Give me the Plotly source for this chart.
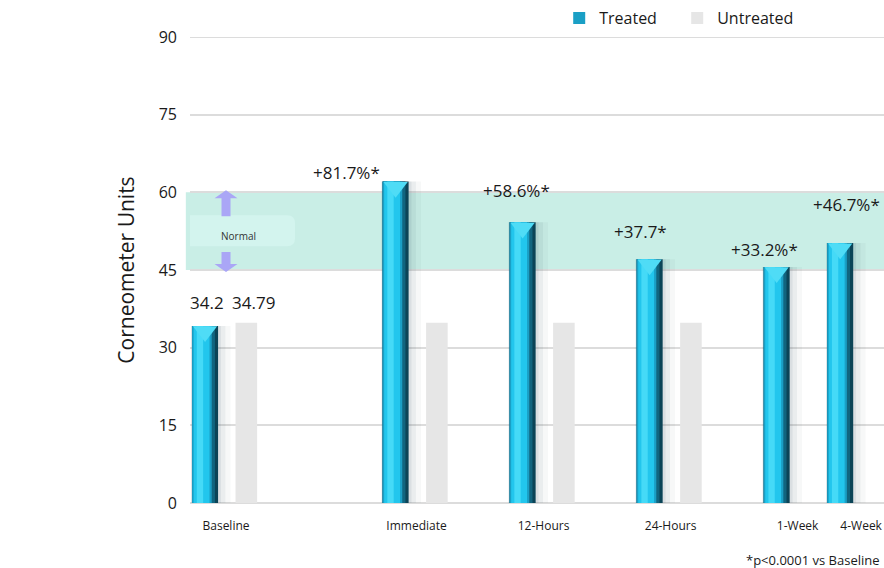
import plotly.graph_objects as go

# Data
categories = ['Baseline', 'Immediate', '12-Hours', '24-Hours', '1-Week', '4-Week']
slots = [0, 3, 5, 7, 9, 10]                       # uneven spacing of the time points
treated = [34.2, 62.1, 54.2, 47.1, 45.6, 50.2]
treated_labels = ['34.2', '+81.7%*', '+58.6%*', '+37.7*', '+33.2%*', '+46.7%*']
untreated_cats = ['Baseline', 'Immediate', '12-Hours', '24-Hours']
untreated = [34.79, 34.8, 34.8, 34.8]
untreated_labels = ['34.79', '', '', '']
normal_low, normal_high = 45, 60

# Colours
grey_bar = '#e6e6e6'
band_color = '#c9eee6'
box_color = '#d3f4ee'
arrow_color = '#aaa6f6'
grid_color = '#dcdcdc'

slot_of = dict(zip(categories, slots))
x_tr = [slot_of[c] - 0.33 for c in categories]
x_un = [slot_of[c] + 0.32 for c in untreated_cats]

fig = go.Figure()

# soft shadow behind treated bars
for w, op in [(0.62, 0.04), (0.54, 0.06), (0.47, 0.08)]:
    fig.add_trace(go.Bar(x=x_tr, y=treated, width=w, offset=-0.22, marker=dict(color='rgba(40,70,85,%s)' % op, line=dict(width=0)),
                         showlegend=False, hoverinfo='skip'))

# cylinder layers (dark right edge -> bright centre)
cyl_layers = [
    (0.41, -0.205, '#0b4457', False),
    (0.36, -0.205, '#11657f', False),
    (0.31, -0.205, '#1a9fc5', True),
    (0.25, -0.18, '#22c6ed', False),
    (0.10, -0.13, '#45daf7', False),
]
for w, off, col, leg in cyl_layers:
    fig.add_trace(go.Bar(x=x_tr, y=treated, width=w, offset=off, name='Treated',
                         marker=dict(color=col, line=dict(width=0)), showlegend=leg,
                         hoverinfo='skip' if not leg else None))

# top cap of each cylinder
fig.add_trace(go.Scatter(x=x_tr, y=[v - 1.1 for v in treated], mode='markers', showlegend=False, hoverinfo='skip',
                         marker=dict(symbol='triangle-down', size=21, color='#4fdcf6', line=dict(width=0))))

fig.add_trace(go.Bar(x=x_un, y=untreated, width=0.34, offset=-0.17, name='Untreated',
                     marker=dict(color=grey_bar, line=dict(width=0))))

# normal band
fig.add_shape(type='rect', xref='paper', yref='y', x0=-0.006, x1=1.0, y0=normal_low, y1=normal_high,
              fillcolor=band_color, line=dict(width=0), layer='below')
fig.add_shape(type='line', xref='paper', yref='y', x0=0, x1=1, y0=90, y1=90,
              line=dict(color=grid_color, width=2), layer='below')
# rounded "Normal" box, drawn in pixels around the baseline group
fig.add_shape(type='path', xref='x', yref='y', xsizemode='pixel', ysizemode='pixel',
              xanchor=0, yanchor=(normal_low + normal_high) / 2,
              path='M-40,16 L61,16 Q69,16 69,8 L69,-7 Q69,-15 61,-15 L-40,-15 Q-48,-15 -48,-7 L-48,8 Q-48,16 -40,16 Z',
              fillcolor=box_color, line=dict(width=0), layer='below')
fig.add_annotation(x=0, y=(normal_low + normal_high) / 2, text='Normal', showarrow=False, xshift=12, yshift=-5,
                   font=dict(size=10, color='#333333', family='Open Sans'))
# up / down arrows
fig.add_shape(type='path', xref='x', yref='y', xsizemode='pixel', ysizemode='pixel', xanchor=0, yanchor=normal_high,
              path='M0,2 L11.5,-6 L4.5,-6 L4.5,-24 L-4.5,-24 L-4.5,-6 L-11.5,-6 Z',
              fillcolor=arrow_color, line=dict(width=0))
fig.add_shape(type='path', xref='x', yref='y', xsizemode='pixel', ysizemode='pixel', xanchor=0, yanchor=normal_low,
              path='M0,-2 L11.5,6 L4.5,6 L4.5,18 L-4.5,18 L-4.5,6 L-11.5,6 Z',
              fillcolor=arrow_color, line=dict(width=0))

# value labels
tr_xshift = [2, -49, -6, -9, -12, 6]
tr_yshift = [10, -5, 18, 14, 4, 25]
for x, y, t, xs, ys in zip(x_tr, treated, treated_labels, tr_xshift, tr_yshift):
    fig.add_annotation(x=x, y=y, text=t, showarrow=False, yanchor='bottom', xshift=xs, yshift=ys,
                       font=dict(size=17, color='#1a1a1a', family='Open Sans'))
for x, y, t in zip(x_un, untreated, untreated_labels):
    if t:
        fig.add_annotation(x=x, y=y, text=t, showarrow=False, yanchor='bottom', xshift=7, yshift=7,
                           font=dict(size=17, color='#1a1a1a', family='Open Sans'))

# footnote
fig.add_annotation(xref='paper', yref='paper', x=1.0, y=-0.1223, xanchor='right', yanchor='middle', xshift=-2,
                   text='*p<0.0001 vs Baseline', showarrow=False, font=dict(size=13, color='#1a1a1a', family='Open Sans'))

fig.update_layout(
    width=884, height=568,
    margin=dict(l=190, r=0, t=37, b=65, autoexpand=False),
    barmode='overlay',
    plot_bgcolor='white', paper_bgcolor='white',
    font=dict(family='Open Sans', color='#1a1a1a'),
    legend=dict(orientation='h', x=0.532, y=0.968, yref='container', xanchor='left', yanchor='middle',
                font=dict(size=16), itemwidth=30, entrywidth=73, bgcolor='rgba(0,0,0,0)'),
    xaxis=dict(range=[-0.567, 10.36], tickmode='array', tickvals=slots, ticktext=categories,
               showgrid=False, zeroline=False, showline=False, ticks='',
               tickfont=dict(size=12, family='Open Sans'), ticklabelstandoff=14),
    yaxis=dict(range=[0, 90], tickvals=[0, 15, 30, 45, 60, 75, 90], showgrid=True, gridcolor=grid_color,
               gridwidth=2, zeroline=True, zerolinecolor=grid_color, zerolinewidth=2, showline=False,
               ticks='', tickfont=dict(size=16), ticklabelstandoff=12,
               title=dict(text='Corneometer Units', font=dict(size=21), standoff=18)),
    showlegend=True,
)

# page body has a default 8px margin; drop it so the chart fills the window
fig.write_html('out.html', config={'displayModeBar': False},
               post_script="document.body.style.margin='0px';")
